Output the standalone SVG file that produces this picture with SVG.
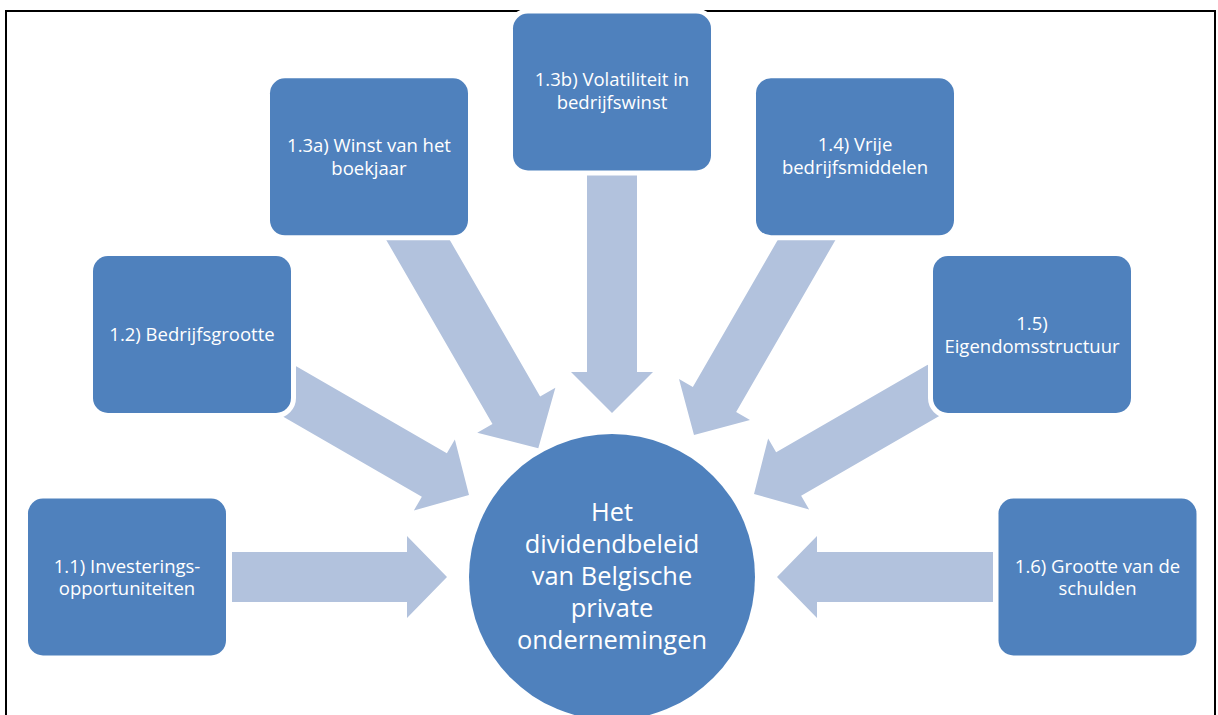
<svg xmlns="http://www.w3.org/2000/svg" width="1218" height="715" viewBox="0 0 1218 715">
<defs>
<style>
.box{fill:#4F81BD;stroke:#FFFFFF;stroke-width:10;paint-order:stroke}
.arrow{fill:#B2C2DD}
.t{font-family:"Open Sans","Liberation Sans",sans-serif;font-size:18.5px;fill:#FFFFFF;text-anchor:middle}
.c{font-family:"Open Sans","Liberation Sans",sans-serif;font-size:25.4px;fill:#FFFFFF;text-anchor:middle}
</style>
</defs>
<rect x="0" y="0" width="1218" height="715" fill="#FFFFFF"/>
<rect x="6" y="11" width="1209" height="720" fill="none" stroke="#000000" stroke-width="2"/>
<g id="connectors">
<path class="arrow" transform="translate(447,577)" d="M0,0 L-40,41 L-40,25 L-215,25 L-215,-25 L-40,-25 L-40,-41 Z"/>
<path class="arrow" transform="translate(469,495) rotate(30)" d="M0,0 L-40,41 L-40,25 L-215,25 L-215,-25 L-40,-25 L-40,-41 Z"/>
<path class="arrow" transform="translate(538.3,448.3) rotate(60) scale(1.1)" d="M0,0 L-40,41 L-40,25 L-240,25 L-240,-25 L-40,-25 L-40,-41 Z"/>
<path class="arrow" transform="translate(612,413) rotate(90)" d="M0,0 L-41,41 L-41,25 L-250,25 L-250,-25 L-41,-25 L-41,-41 Z"/>
<path class="arrow" transform="translate(694,435) rotate(120)" d="M0,0 L-41,41 L-41,25 L-250,25 L-250,-25 L-41,-25 L-41,-41 Z"/>
<path class="arrow" transform="translate(754,494) rotate(150)" d="M0,0 L-40,41 L-40,25 L-215,25 L-215,-25 L-40,-25 L-40,-41 Z"/>
<path class="arrow" transform="translate(777,577) rotate(180)" d="M0,0 L-40,41 L-40,25 L-216,25 L-216,-25 L-40,-25 L-40,-41 Z"/>
</g>
<g id="node-center">
<circle cx="612" cy="577" r="143" fill="#4F81BD"/>
<text class="c" x="612" y="520.5">Het</text>
<text class="c" x="612" y="552.5">dividendbeleid</text>
<text class="c" x="612" y="584.5">van Belgische</text>
<text class="c" x="612" y="616.5">private</text>
<text class="c" x="612" y="648.5">ondernemingen</text>
</g>
<g id="node-1-1">
<rect class="box" x="28" y="498.5" width="198" height="157" rx="15"/>
<text class="t" x="127" y="572.7">1.1) Investerings-</text>
<text class="t" x="127" y="595.3">opportuniteiten</text>
</g>
<g id="node-1-2">
<rect class="box" x="93" y="256" width="198" height="157" rx="15"/>
<text class="t" x="192" y="341">1.2) Bedrijfsgrootte</text>
</g>
<g id="node-1-3a">
<rect class="box" x="270" y="78.3" width="198" height="157" rx="15"/>
<text class="t" x="369" y="151.7">1.3a) Winst van het</text>
<text class="t" x="369" y="175">boekjaar</text>
</g>
<g id="node-1-3b">
<rect class="box" x="513" y="13.5" width="198" height="157" rx="15"/>
<text class="t" x="612" y="86">1.3b) Volatiliteit in</text>
<text class="t" x="612" y="109.3">bedrijfswinst</text>
</g>
<g id="node-1-4">
<rect class="box" x="756" y="78.3" width="198" height="157" rx="15"/>
<text class="t" x="855" y="151.3">1.4) Vrije</text>
<text class="t" x="855" y="174.3">bedrijfsmiddelen</text>
</g>
<g id="node-1-5">
<rect class="box" x="933" y="256" width="198" height="157" rx="15"/>
<text class="t" x="1032" y="329.5">1.5)</text>
<text class="t" x="1032" y="352.8">Eigendomsstructuur</text>
</g>
<g id="node-1-6">
<rect class="box" x="998.5" y="498.5" width="198" height="157" rx="15"/>
<text class="t" x="1097.5" y="572.5">1.6) Grootte van de</text>
<text class="t" x="1097.5" y="595.2">schulden</text>
</g>
</svg>
